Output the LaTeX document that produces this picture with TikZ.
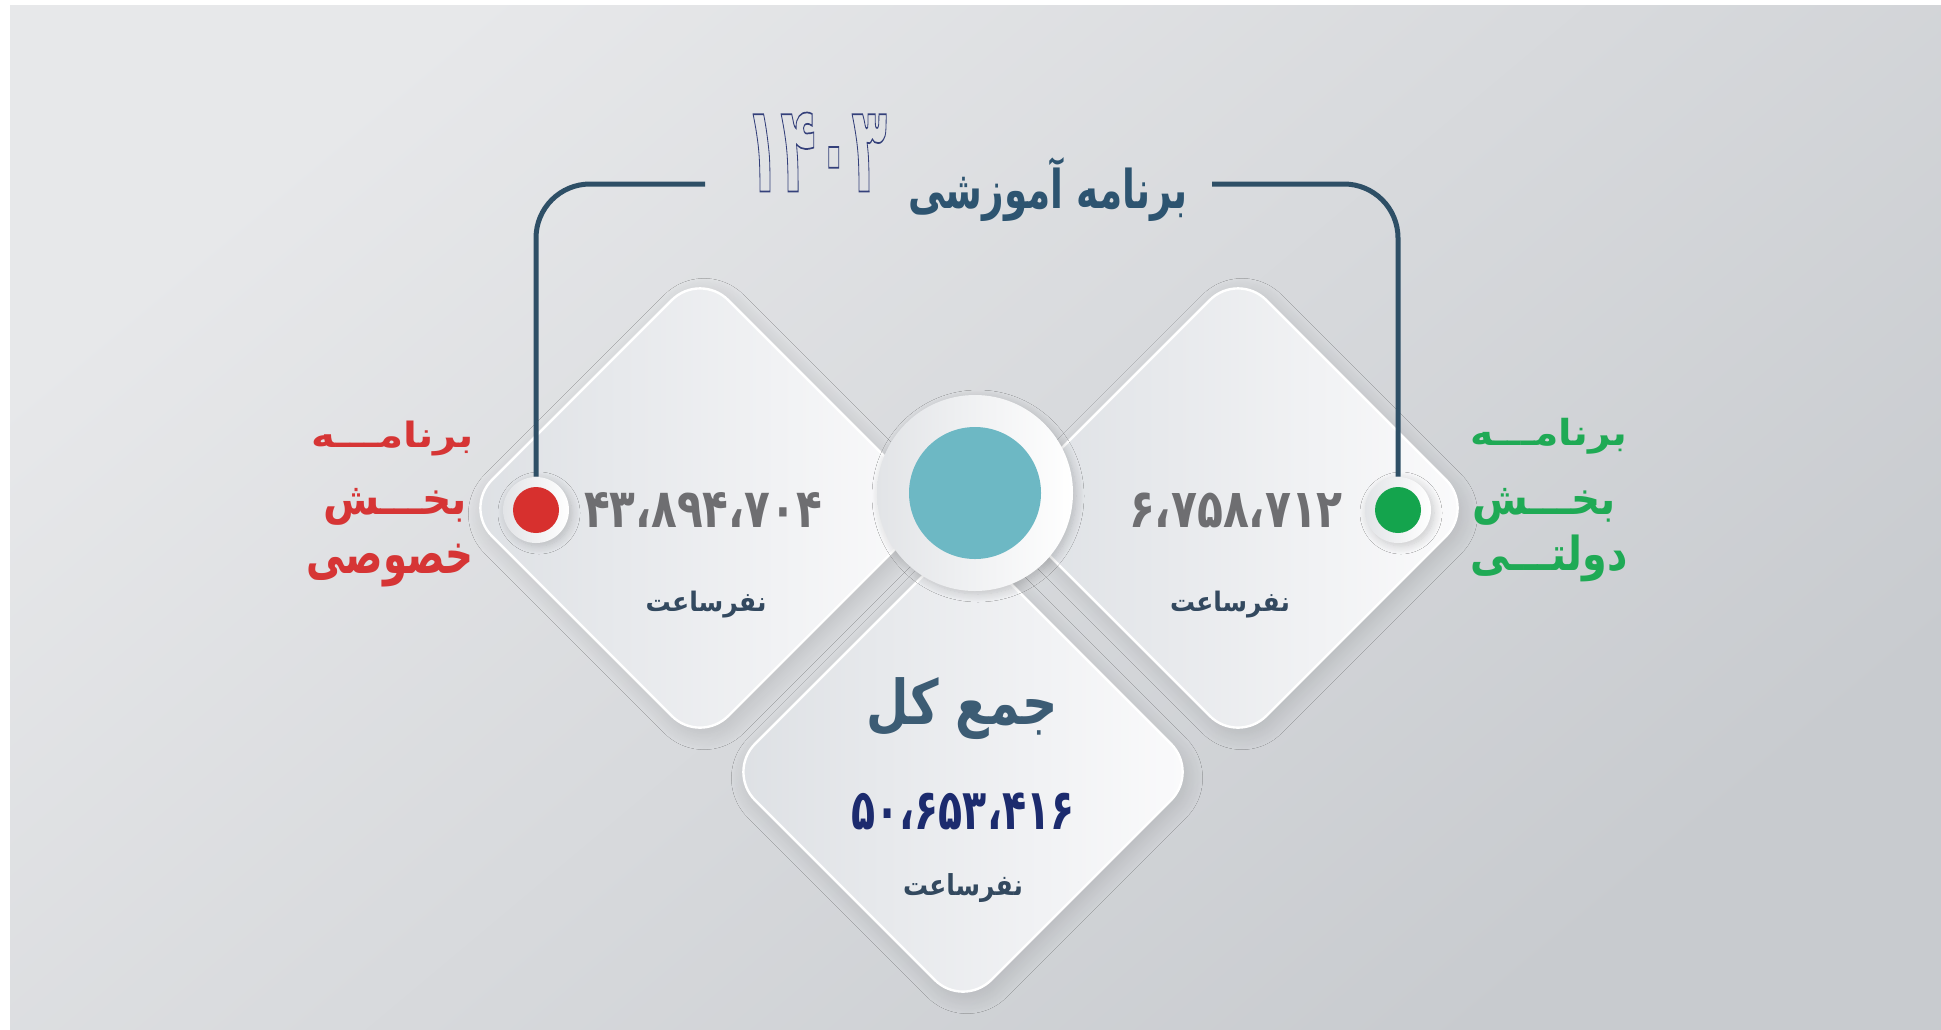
\documentclass[tikz,border=0pt]{standalone}
\usepackage{fontspec}
\usepackage{graphicx}
\usetikzlibrary{shadows.blur}
\newfontfamily\fa[Script=Arabic]{DejaVu Sans}
\TeXXeTstate=1
\definecolor{bgA}{HTML}{E7E8EA}
\definecolor{bgB}{HTML}{C8CBCF}
\definecolor{lineC}{HTML}{2E4F66}
\definecolor{titleC}{HTML}{2D5470}
\definecolor{yearC}{HTML}{34407A}
\definecolor{numGray}{HTML}{6E6E71}
\definecolor{navyC}{HTML}{1C2B6E}
\definecolor{slateC}{HTML}{3C5C74}
\definecolor{nafarC}{HTML}{33495F}
\definecolor{redC}{HTML}{D7302E}
\definecolor{redL}{HTML}{D63535}
\definecolor{greenC}{HTML}{14A44D}
\definecolor{greenL}{HTML}{1FAA55}
\definecolor{tealC}{HTML}{6DB8C4}
\definecolor{diamL}{HTML}{DDE0E4}
\definecolor{diamR}{HTML}{FBFBFC}
\definecolor{ringL}{HTML}{E2E4E7}
\newcommand{\fitbox}[3]{\resizebox*{#1}{#2}{#3}}
\newcommand{\rtltext}[1]{\beginR#1\endR}
\newcommand{\outlinetext}[1]{\special{pdf:literal direct 1 Tr 0.14 w}#1\special{pdf:literal direct 0 Tr}}
\begin{document}
\begin{tikzpicture}[x=0.5pt,y=-0.5pt,
  diam/.style={rectangle, rotate=45, minimum size=167pt, inner sep=0pt,
    rounded corners=20pt, draw=white, line width=1.2pt,
    left color=diamL, right color=diamR,
    blur shadow={shadow xshift=2pt, shadow yshift=-3pt, shadow blur radius=8pt, shadow blur steps=20, shadow opacity=13}},
  ring/.style={circle, inner sep=0pt, left color=ringL, right color=white,
    blur shadow={shadow xshift=1.5pt, shadow yshift=-1.5pt, shadow blur radius=4pt, shadow blur steps=12, shadow opacity=18}},
  dot/.style={circle, inner sep=0pt, minimum size=23pt},
  conn/.style={draw=lineC, line width=2.5pt, rounded corners=27pt},
  txt/.style={inner sep=0pt, outer sep=0pt}]
\useasboundingbox (0,0) rectangle (1941,1029);
\fill[white] (0,0) rectangle (1941,1029);
\shade[top color=bgA, bottom color=bgB, shading angle=40] (10,5) rectangle (1941,1029);

% free ends of the connectors
\coordinate (tl) at (705,184);
\coordinate (tr) at (1212,184);

% diamonds
\node[diam] (dl) at (700,508) {};
\node[diam] (dr) at (1238,508) {};
\node[diam] (db) at (963,772) {};

% centre hub
\node[ring, minimum size=98pt] (hubring) at (975,493) {};
\node[circle, inner sep=0pt, minimum size=66pt, fill=tealC] (hub) at (975,493) {};

% dot rings
\node[ring, minimum size=33pt] (redring) at (536,510) {};
\node[ring, minimum size=33pt] (greenring) at (1398,510) {};
\draw[conn] (tl) -| (redring.north);
\draw[conn] (tr) -| (greenring.north);
\node[dot, fill=redC] (reddot) at (redring.center) {};
\node[dot, fill=greenC] (greendot) at (greenring.center) {};

% title
\node[txt] (title) at (1048,190) {\color{titleC}\fitbox{140pt}{32pt}{\fa\bfseries\rtltext{برنامه آموزشی}}};
\node[txt] (year) at (816,152) {\color{yearC}\fitbox{71pt}{39.5pt}{\fa\bfseries\outlinetext{۱۴۰۳}}};

% numbers
\node[txt] (lnum) at (703,510) {\color{numGray}\fitbox{119pt}{17.5pt}{\fa\bfseries ۴۳،۸۹۴،۷۰۴}};
\node[txt] (rnum) at (1236,510) {\color{numGray}\fitbox{107pt}{17.5pt}{\fa\bfseries ۶،۷۵۸،۷۱۲}};
\node[txt] (lunit) at (706,605) {\color{nafarC}\fitbox{60.5pt}{13.5pt}{\fa\bfseries\rtltext{نفرساعت}}};
\node[txt] (runit) at (1230,605) {\color{nafarC}\fitbox{60pt}{13.5pt}{\fa\bfseries\rtltext{نفرساعت}}};

% total
\node[txt] (total) at (962,709) {\color{slateC}\fitbox{95.5pt}{31pt}{\fa\bfseries\rtltext{جمع کل}}};
\node[txt] (tnum) at (963,811) {\color{navyC}\fitbox{111.5pt}{18.5pt}{\fa\bfseries ۵۰،۶۵۳،۴۱۶}};
\node[txt] (tunit) at (963,888) {\color{nafarC}\fitbox{60pt}{14.5pt}{\fa\bfseries\rtltext{نفرساعت}}};

% side labels
\node[txt] (rl1) at (393,438) {\color{redL}\fitbox{81pt}{17.5pt}{\fa\bfseries\rtltext{برنامـــه}}};
\node[txt] (rl2) at (395,507) {\color{redL}\fitbox{72pt}{18.5pt}{\fa\bfseries\rtltext{بخـــش}}};
\node[txt] (rl3) at (390,566) {\color{redL}\fitbox{83.5pt}{21.5pt}{\fa\bfseries\rtltext{خصوصی}}};
\node[txt] (gl1) at (1549,436) {\color{greenL}\fitbox{78.5pt}{18pt}{\fa\bfseries\rtltext{برنامـــه}}};
\node[txt] (gl2) at (1544,507) {\color{greenL}\fitbox{71.5pt}{18.5pt}{\fa\bfseries\rtltext{بخـــش}}};
\node[txt] (gl3) at (1549,558) {\color{greenL}\fitbox{78.5pt}{23.5pt}{\fa\bfseries\rtltext{دولتـــی}}};
\end{tikzpicture}
\end{document}
